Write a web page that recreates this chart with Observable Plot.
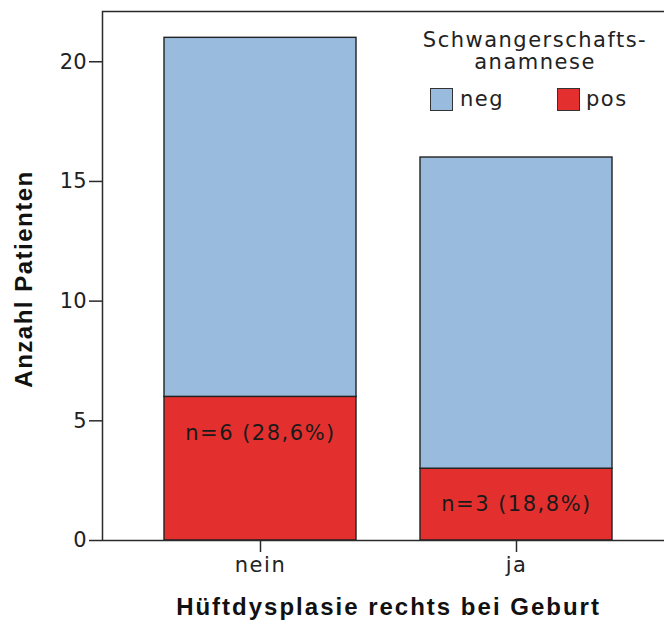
<!DOCTYPE html>
<html>
<head>
<meta charset="utf-8">
<script src="https://cdn.jsdelivr.net/npm/d3@7"></script>
<script src="https://cdn.jsdelivr.net/npm/@observablehq/plot@0.6"></script>
<style>
  html, body { margin: 0; padding: 0; background: #fff; }
  #wrap { position: relative; width: 664px; height: 624px; overflow: hidden; }
  #wrap svg { display: block; }
  #legend { position: absolute; left: 0; top: 0; width: 664px; height: 130px; pointer-events: none;
    font-family: "DejaVu Sans", sans-serif; font-size: 21px; color: #222; letter-spacing: 1.5px; }
  #legend .title { position: absolute; left: 402px; width: 266px; top: 29px; text-align: center; line-height: 22px; }
  #legend .sw { position: absolute; width: 21px; height: 21px; border: 1.5px solid #333; }
  #legend .lab { position: absolute; line-height: 24px; }
</style>
</head>
<body>
<div id="wrap">
  <div id="legend"></div>
</div>
<script>
// ---- data ----
const categories = ["nein", "ja"];
const groups = ["neg", "pos"];
const negValues = [15, 13];
const posValues = [6, 3];
const barLabels = ["n=6 (28,6%)", "n=3 (18,8%)"];
const yTicks = [0, 5, 10, 15, 20];
const groupColors = ["#99bbdd", "#e3302e"];
const legendTitle = ["Schwangerschafts-", "anamnese"];
const xTitle = "Hüftdysplasie rechts bei Geburt";
const yTitle = "Anzahl Patienten";

const rows = [];
categories.forEach((c, i) => {
  rows.push({cat: c, group: "pos", value: posValues[i]});
  rows.push({cat: c, group: "neg", value: negValues[i]});
});
const labelRows = categories.map((c, i) => ({cat: c, value: posValues[i], label: barLabels[i]}));

const plot = Plot.plot({
  width: 664,
  height: 624,
  marginLeft: 102,
  marginRight: -10,
  marginTop: 11,
  marginBottom: 84,
  style: {fontFamily: "DejaVu Sans, sans-serif", fontSize: "21px", color: "#222", background: "#fff", overflow: "hidden"},
  x: {domain: categories, paddingInner: 0.25, paddingOuter: 0.242, label: null},
  y: {domain: [0, 22.1], label: null},
  color: {domain: groups, range: groupColors},
  marks: [
    Plot.barY(rows, {x: "cat", y: "value", fill: "group", order: ["pos", "neg"], stroke: "#222", strokeWidth: 1.4}),
    Plot.text(labelRows, {x: "cat", y: "value", text: "label", dy: 36, fill: "#1a1a1a", fontSize: 21}),
    Plot.frame({stroke: "#2a2a2a", strokeWidth: 1.5}),
    Plot.axisY({ticks: yTicks, tickSize: 13, tickPadding: 3, tickFormat: d => String(d), label: null, stroke: "#2a2a2a", strokeWidth: 1.5, fill: "#222", fontSize: 21}),
    Plot.axisX({tickSize: 12, tickPadding: 5, label: null, stroke: "#2a2a2a", strokeWidth: 1.5, fill: "#222", fontSize: 21}),
    Plot.text([yTitle], {frameAnchor: "left", textAnchor: "middle", lineAnchor: "middle", rotate: -90, dx: -78, dy: 3, fontFamily: "Liberation Sans, Arial, sans-serif", fontWeight: "bold", fontSize: 24, fill: "#111"}),
    Plot.text([xTitle], {frameAnchor: "bottom", textAnchor: "middle", lineAnchor: "middle", dy: 67, fontFamily: "Liberation Sans, Arial, sans-serif", fontWeight: "bold", fontSize: 24, fill: "#111"})
  ]
});
const wrap = document.getElementById("wrap");
wrap.insertBefore(plot, wrap.firstChild);

// letter spacing (reference text is rendered slightly wide)
d3.select(plot).selectAll("text").each(function() {
  const s = this.textContent;
  if (s === xTitle) this.style.letterSpacing = "2px";
  else if (/^\d+$/.test(s)) this.style.letterSpacing = "0px";
  else this.style.letterSpacing = "1.5px";
});

// legend (HTML overlay)
const lg = document.getElementById("legend");
const t = document.createElement("div");
t.className = "title";
t.innerHTML = legendTitle.join("<br>");
lg.appendChild(t);
const legendPos = [{sx: 430, tx: 460}, {sx: 557, tx: 586}];
groups.forEach((g, i) => {
  const sw = document.createElement("div");
  sw.className = "sw";
  sw.style.left = legendPos[i].sx + "px";
  sw.style.top = "88px";
  sw.style.background = groupColors[i];
  lg.appendChild(sw);
  const lab = document.createElement("div");
  lab.className = "lab";
  lab.style.left = legendPos[i].tx + "px";
  lab.style.top = "87px";
  lab.textContent = g;
  lg.appendChild(lab);
});
</script>
</body>
</html>
